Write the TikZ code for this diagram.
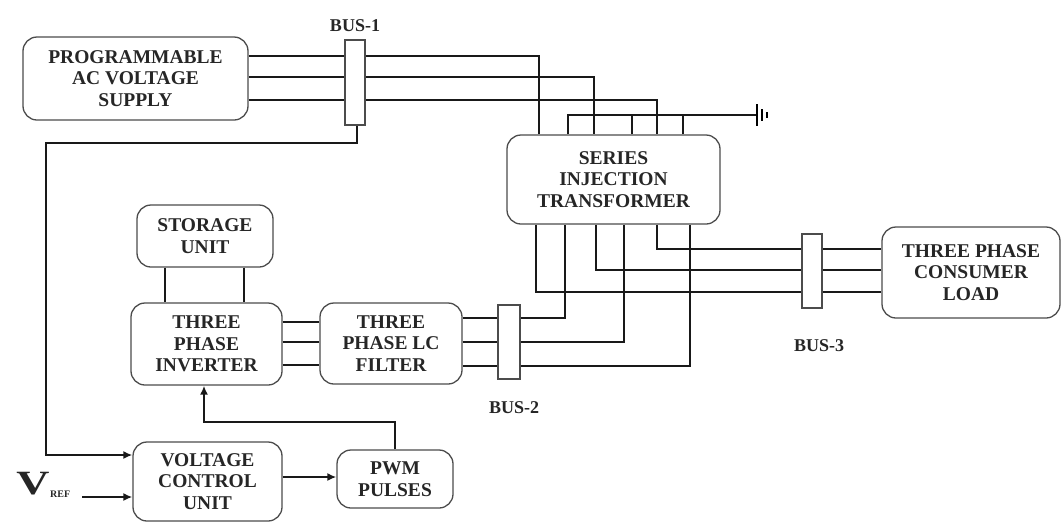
\documentclass[tikz,border=0pt]{standalone}
\usepackage{fontspec}
\setmainfont{Liberation Serif}
\usetikzlibrary{arrows.meta,backgrounds,calc}
\tikzset{
  blk/.style={draw=black!70, line width=1.3pt, rounded corners=14pt, fill=white,
    inner sep=0pt, align=center, text=black!85,
    font=\bfseries\fontsize{19.5}{21.5}\selectfont},
  busbar/.style={draw=black!70, line width=1.1pt, fill=white, inner sep=0pt},
  wire/.style={line width=2.2pt, black!90},
  sig/.style={line width=2.2pt, black!90, -{Latex[length=9pt,width=8pt]}},
  lbl/.style={font=\bfseries\fontsize{18}{20}\selectfont, text=black!85, inner sep=0pt}
}
\begin{document}
\begin{tikzpicture}[x=1pt,y=-1pt]
\useasboundingbox (0,0) rectangle (1063,523);
% blocks
\node[blk, minimum width=225pt, minimum height=83pt] (prog) at (135.5,78.5) {PROGRAMMABLE\\AC VOLTAGE\\SUPPLY};
\node[blk, minimum width=213pt, minimum height=89pt] (trans) at (613.5,179.5) {SERIES\\INJECTION\\TRANSFORMER};
\node[blk, minimum width=178pt, minimum height=91pt] (load) at (971,272.5) {THREE PHASE\\CONSUMER\\LOAD};
\node[blk, minimum width=136pt, minimum height=62pt] (storage) at (205,236) {STORAGE\\UNIT};
\node[blk, minimum width=151pt, minimum height=82pt] (inv) at (206.5,344) {THREE\\PHASE\\INVERTER};
\node[blk, minimum width=142pt, minimum height=81pt] (filter) at (391,343.5) {THREE\\PHASE LC\\FILTER};
\node[blk, minimum width=149pt, minimum height=79pt] (vcu) at (207.5,481.5) {VOLTAGE\\CONTROL\\UNIT};
\node[blk, minimum width=116pt, minimum height=58pt] (pwm) at (395,479) {PWM\\PULSES};
% buses
\node[busbar, minimum width=20pt, minimum height=85pt] (bus1) at (355,82.5) {};
\node[busbar, minimum width=22pt, minimum height=74pt] (bus2) at (509,342) {};
\node[busbar, minimum width=20pt, minimum height=74pt] (bus3) at (812,271) {};
\node[lbl] (bus1l) at (355,26) {BUS-1};
\node[lbl] (bus2l) at (514,408) {BUS-2};
\node[lbl] (bus3l) at (819,346) {BUS-3};
% V_REF
\node[inner sep=0pt, text=black!85, font=\bfseries\fontsize{34}{34}\selectfont] (vref) at (33,484) {\scalebox{1.35}[1]{V}};
\node[inner sep=0pt, text=black!85, font=\bfseries\fontsize{10}{10}\selectfont, anchor=west] (vrefsub) at (50,494) {REF};
\coordinate (vrefstart) at (82,497);
\coordinate (gnd) at (757,115);
\begin{scope}[on background layer]
% supply -> bus1 -> transformer
\draw[wire] (prog.east |- 0,56) -| (trans.north -| 539,0);
\draw[wire] (prog.east |- 0,77) -| (trans.north -| 594,0);
\draw[wire] (prog.east |- 0,100) -| (trans.north -| 657,0);
% ground
\draw[wire] (trans.north -| 568,0) |- (gnd);
\draw[wire] (trans.north -| 632,0) -- (632,0 |- gnd);
\draw[wire] (trans.north -| 683,0) -- (683,0 |- gnd);
% feedback
\draw[sig] (bus1.south -| 357,0) |- (46,143) |- (vcu.west |- 0,455);
% filter -> bus2 -> transformer
\draw[wire] (filter.east |- 0,318) -| (trans.south -| 565,0);
\draw[wire] (filter.east |- 0,342) -| (trans.south -| 624,0);
\draw[wire] (filter.east |- 0,366) -| (trans.south -| 690,0);
% transformer -> bus3 -> load
\draw[wire] (trans.south -| 657,0) |- (load.west |- 0,249);
\draw[wire] (trans.south -| 596,0) |- (load.west |- 0,270);
\draw[wire] (trans.south -| 536,0) |- (load.west |- 0,292);
\end{scope}
% ground symbol
\draw[line width=2.6pt] ($(gnd)+(0,-11)$) -- ($(gnd)+(0,11)$);
\draw[line width=2.2pt] ($(gnd)+(5,-6)$) -- ($(gnd)+(5,6)$);
\draw[line width=2pt] ($(gnd)+(10,-3)$) -- ($(gnd)+(10,3)$);
% storage - inverter
\draw[wire] (storage.south -| 165,0) -- (inv.north -| 165,0);
\draw[wire] (storage.south -| 244,0) -- (inv.north -| 244,0);
% inverter - filter
\draw[wire] (inv.east |- 0,322) -- (filter.west |- 0,322);
\draw[wire] (inv.east |- 0,342) -- (filter.west |- 0,342);
\draw[wire] (inv.east |- 0,365) -- (filter.west |- 0,365);
% control
\draw[sig] (vrefstart) -- (vcu.west |- vrefstart);
\draw[sig] (vcu.east |- 0,477) -- (pwm.west |- 0,477);
\draw[sig] (pwm.north) |- (204,422) -- (inv.south -| 204,0);
\end{tikzpicture}
\end{document}
